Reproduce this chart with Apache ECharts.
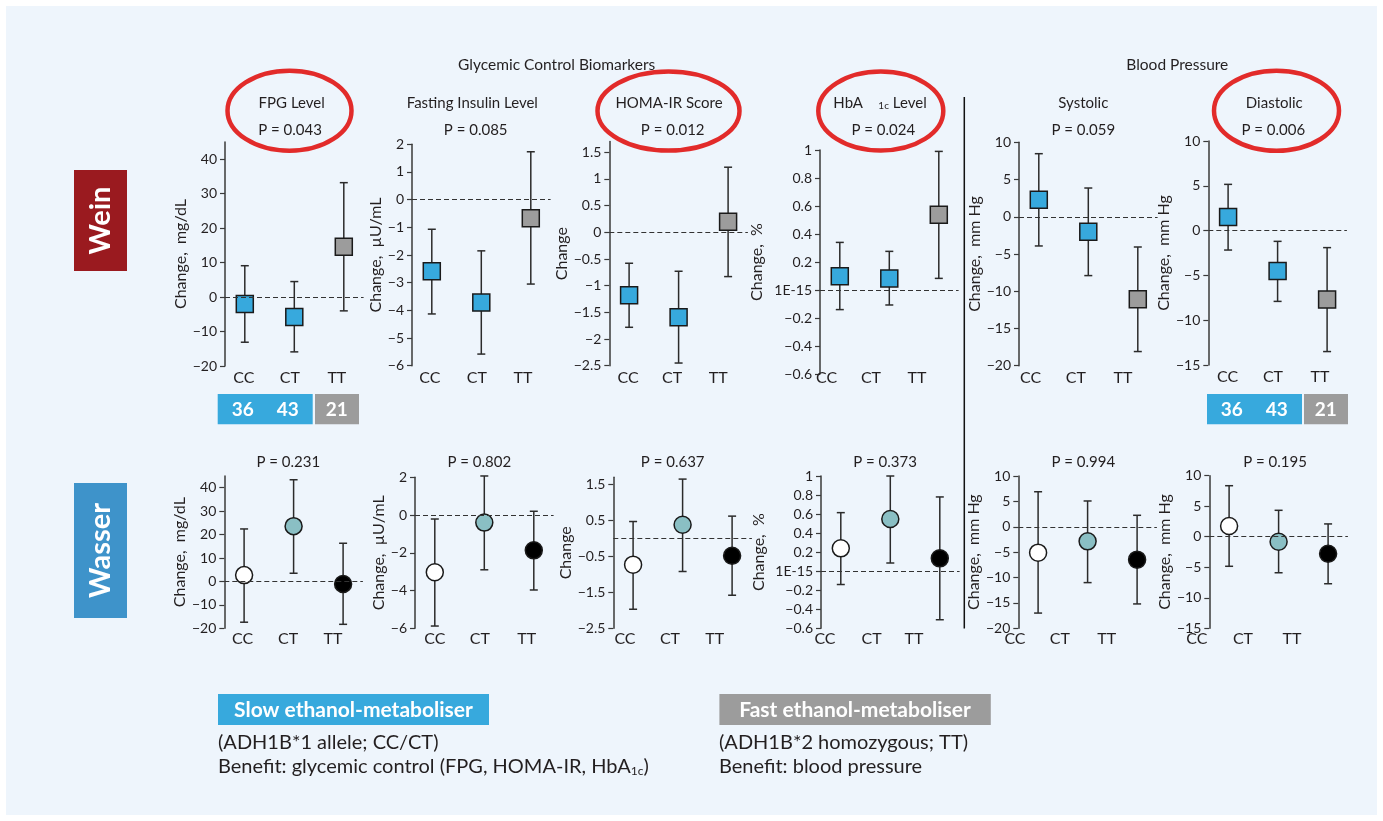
<!DOCTYPE html>
<html>
<head>
<meta charset="utf-8">
<script src="https://cdn.jsdelivr.net/npm/echarts/dist/echarts.min.js"></script>
<style>html,body{margin:0;padding:0;background:#fff}#c{width:1383px;height:821px}</style>
</head>
<body>
<div id="c"></div>
<script>
// ---------- DATA ----------
const groups = ['CC', 'CT', 'TT'];
const counts = [36, 43, 21];
const panelTitles = ['FPG Level', 'Fasting Insulin Level', 'HOMA-IR Score', 'HbA1c Level', 'Systolic', 'Diastolic'];
const yNames = ['Change,  mg/dL', 'Change,  \u00b5U/mL', 'Change', 'Change,  %', 'Change,  mm Hg', 'Change,  mm Hg'];
const pWein = ['0.043', '0.085', '0.012', '0.024', '0.059', '0.006'];
const pWasser = ['0.231', '0.802', '0.637', '0.373', '0.994', '0.195'];

// [mean, low, high] per genotype (CC, CT, TT)
const weinFPG      = [[-2.0, -13.1, 9.1], [-5.8, -15.9, 4.5], [14.6, -4.0, 33.2]];
const weinInsulin  = [[-2.59, -4.13, -1.07], [-3.72, -5.58, -1.85], [-0.67, -3.05, 1.73]];
const weinHOMA     = [[-1.18, -1.78, -0.58], [-1.59, -2.45, -0.73], [0.20, -0.83, 1.22]];
const weinHbA1c    = [[0.098, -0.14, 0.34], [0.083, -0.107, 0.276], [0.537, 0.083, 0.99]];
const weinSys      = [[2.28, -3.92, 8.47], [-2.02, -7.9, 3.86], [-11.07, -18.1, -4.06]];
const weinDia      = [[1.52, -2.17, 5.16], [-4.5, -7.9, -1.2], [-7.7, -13.5, -1.9]];

const wasserFPG     = [[2.7, -17.4, 22.4], [23.6, 3.5, 43.4], [-1.1, -18.3, 16.3]];
const wasserInsulin = [[-3.03, -5.88, -0.21], [-0.4, -2.9, 2.07], [-1.87, -3.97, 0.2]];
const wasserHOMA    = [[-0.73, -1.97, 0.47], [0.38, -0.92, 1.65], [-0.48, -1.58, 0.62]];
const wasserHbA1c   = [[0.24, -0.14, 0.615], [0.548, 0.086, 1.0], [0.135, -0.51, 0.78]];
const wasserSys     = [[-5.1, -17.0, 6.9], [-2.87, -11.0, 5.08], [-6.48, -15.2, 2.26]];
const wasserDia     = [[1.76, -4.84, 8.36], [-0.81, -5.9, 4.33], [-2.78, -7.7, 2.1]];

// tick labels
const ticksFPG        = [-20, -10, 0, 10, 20, 30, 40];
const ticksInsulinTop = [-6, -5, -4, -3, -2, -1, 0, 1, 2];
const ticksInsulinBot = [-6, -4, -2, 0, 2];
const ticksHOMATop    = [-2.5, -2, -1.5, -1, -0.5, 0, 0.5, 1, 1.5];
const ticksHOMABot    = [-2.5, -1.5, -0.5, 0.5, 1.5];
const ticksHbA1c      = [-0.6, -0.4, -0.2, 0, 0.2, 0.4, 0.6, 0.8, 1];
const ticksSys        = [-20, -15, -10, -5, 0, 5, 10];
const ticksDia        = [-15, -10, -5, 0, 5, 10];

const weinData = [weinFPG, weinInsulin, weinHOMA, weinHbA1c, weinSys, weinDia];
const wasserData = [wasserFPG, wasserInsulin, wasserHOMA, wasserHbA1c, wasserSys, wasserDia];
const weinTicks = [ticksFPG, ticksInsulinTop, ticksHOMATop, ticksHbA1c, ticksSys, ticksDia];
const wasserTicks = [ticksFPG, ticksInsulinBot, ticksHOMABot, ticksHbA1c, ticksSys, ticksDia];

// ---------- LAYOUT / STYLE ----------
const FONT = 'Lato, "Open Sans", sans-serif';
const TXT = '#231f20';
const GW = 138.6;
const layoutTop = [
  {left: 225,    top: 142,   h: 224,   min: -20,  max: 45,  gap: 31.5, lab: [0.98, 1.91, 2.86], lm: 4},
  {left: 412,    top: 144.3, h: 221.4, min: -6,   max: 2,   gap: 27,   lab: [0.96, 1.91, 2.84], lm: 4},
  {left: 609.3,  top: 141.6, h: 224.1, min: -2.5, max: 1.7, gap: 37,   lab: [0.98, 1.87, 2.80], lm: 4},
  {left: 820,    top: 150,   h: 224,   min: -0.6, max: 1,   gap: 55,   lab: [0.735, 1.63, 2.56], lm: -4},
  {left: 1019,   top: 142.3, h: 223.4, min: -20,  max: 10,  gap: 31.5, lab: [0.836, 1.75, 2.70], lm: 4},
  {left: 1208.3, top: 141,   h: 224,   min: -15,  max: 10,  gap: 29,   lab: [0.99, 1.907, 2.856], lm: 4}
];
const layoutBot = [
  {left: 224.3,  top: 476,   h: 152.3, min: -20,  max: 45,  gap: 30.5, lab: [0.97, 1.887, 2.796], lm: 3},
  {left: 415,    top: 477.3, h: 151,   min: -6,   max: 2,   gap: 28.5, lab: [1.0, 1.91, 2.857], lm: 3},
  {left: 613.3,  top: 477.3, h: 151,   min: -2.5, max: 1.7, gap: 37,   lab: [0.836, 1.745, 2.65], lm: 3},
  {left: 821,    top: 476,   h: 152.3, min: -0.6, max: 1,   gap: 54.5, lab: [0.68, 1.624, 2.48], lm: 3},
  {left: 1018.3, top: 476,   h: 152.3, min: -20,  max: 10,  gap: 33,   lab: [1.033, 1.94, 2.886], lm: 3, pad: 49.5},
  {left: 1209.3, top: 475.7, h: 152.6, min: -15,  max: 10,  gap: 34,   lab: [0.85, 1.78, 2.77], lm: 3, pad: 49.5}
];
const topColors = ['#37a9dd', '#37a9dd', '#9c9c9c'];
const botColors = ['#ffffff', '#8abfc4', '#000000'];

function fmtTick(v, zeroLabel) {
  if (Math.abs(v) < 1e-9) return zeroLabel;
  const s = String(+Math.abs(v).toFixed(2));
  return v < 0 ? '\u2212' + s : s;
}

function errRender(params, api) {
  const x = api.value(0), lo = api.value(1), hi = api.value(2);
  const a = api.coord([x, hi]), b = api.coord([x, lo]);
  const cw = 4;
  const st = {stroke: '#2b2b2b', lineWidth: 1.5};
  return {type: 'group', children: [
    {type: 'line', shape: {x1: a[0], y1: a[1], x2: b[0], y2: b[1]}, style: st},
    {type: 'line', shape: {x1: a[0] - cw, y1: a[1], x2: a[0] + cw, y2: a[1]}, style: st},
    {type: 'line', shape: {x1: b[0] - cw, y1: b[1], x2: b[0] + cw, y2: b[1]}, style: st}
  ]};
}

const grids = [], xAxes = [], yAxes = [], series = [];
function addPanel(lay, data, ticks, k, isTop) {
  const i = grids.length;
  grids.push({left: lay.left, top: lay.top, width: GW, height: lay.h, outerBoundsMode: 'none', containLabel: false});
  const labs = lay.lab;
  xAxes.push({
    gridIndex: i, type: 'value', min: 0.6, max: 3.4,
    axisLine: {show: false}, axisTick: {show: false}, splitLine: {show: false},
    axisLabel: {
      customValues: labs, margin: lay.lm, fontSize: 16, fontFamily: FONT, color: TXT,
      padding: lay.pad ? [0, lay.pad, 0, 0] : 0,
      formatter: function (v) {
        let best = 0, d = 1e9;
        labs.forEach((p, j) => { if (Math.abs(p - v) < d) { d = Math.abs(p - v); best = j; } });
        return groups[best];
      }
    }
  });
  const zeroLabel = k === 3 ? '1E-15' : '0';
  yAxes.push({
    gridIndex: i, type: 'value', min: lay.min, max: lay.max,
    name: yNames[k], nameLocation: 'middle', nameGap: lay.gap,
    nameTextStyle: {fontSize: 16, fontFamily: FONT, color: TXT},
    axisLine: {show: true, lineStyle: {color: '#3a3a3a', width: 1.5}},
    axisTick: {show: true, customValues: ticks, length: 5, lineStyle: {color: '#3a3a3a', width: 1.2}},
    splitLine: {show: false},
    axisLabel: {customValues: ticks, margin: 8, fontSize: 14, fontFamily: FONT, color: TXT,
      formatter: v => fmtTick(v, zeroLabel)}
  });
  series.push({
    type: 'custom', xAxisIndex: i, yAxisIndex: i, z: 2, silent: true,
    renderItem: errRender, encode: {x: 0, y: [1, 2]},
    data: data.map((d, j) => [j + 1, d[1], d[2]]),
    markLine: {silent: true, symbol: ['none', 'none'], label: {show: false},
      lineStyle: {type: [5, 3], color: '#333', width: 1.2}, data: [{yAxis: 0}]}
  });
  series.push({
    type: 'scatter', xAxisIndex: i, yAxisIndex: i, z: 3, silent: true,
    symbol: isTop ? 'rect' : 'circle', symbolSize: 17,
    data: data.map((d, j) => ({value: [j + 1, d[0]],
      itemStyle: {color: (isTop ? topColors : botColors)[j], borderColor: '#1a1a1a', borderWidth: 1.5, opacity: 1}}))
  });
}
for (let k = 0; k < 6; k++) addPanel(layoutTop[k], weinData[k], weinTicks[k], k, true);
for (let k = 0; k < 6; k++) addPanel(layoutBot[k], wasserData[k], wasserTicks[k], k, false);

// ---------- GRAPHICS (labels, boxes, ellipses) ----------
const g = [];
function text(x, y, s, size, opt) {
  opt = opt || {};
  g.push({type: 'text', x: x, y: y, rotation: opt.rot || 0, z: 10,
    style: {text: s, fontSize: size, fontFamily: FONT, fontWeight: opt.bold ? 'bold' : 'normal',
      fill: opt.fill || TXT, align: opt.align || 'center', verticalAlign: 'middle',
      textAlign: opt.align || 'center', textVerticalAlign: 'middle', rich: opt.rich}});
}
g.push({type: 'rect', shape: {x: 6, y: 6, width: 1371, height: 809}, style: {fill: '#eef5fc'}, z: -10});
// row labels
g.push({type: 'rect', shape: {x: 74, y: 170, width: 53, height: 101}, style: {fill: '#9a1a1f'}, z: 5});
text(101, 220.5, 'Wein', 29, {bold: true, fill: '#fff', rot: Math.PI / 2});
g.push({type: 'rect', shape: {x: 74, y: 483, width: 53, height: 135}, style: {fill: '#3e93ca'}, z: 5});
text(101, 550.5, 'Wasser', 29, {bold: true, fill: '#fff', rot: Math.PI / 2});
// section headers
text(556.7, 65, 'Glycemic Control Biomarkers', 15.5);
text(1177.3, 65, 'Blood Pressure', 15.5);
// panel titles
const titleX = [291.7, 472.3, 669, 880, 1083.3, 1274.3];
const pTopX = [290, 475.7, 672.7, 883.3, 1083.3, 1273.3];
const pBotX = [288.3, 479.3, 672.7, 885, 1083.3, 1275];
const rich = {s: {fontSize: 10, fontFamily: FONT, fill: TXT, padding: [7, 0, 0, 0]}, n: {fontSize: 15, fontFamily: FONT, fill: TXT}};
for (let k = 0; k < 6; k++) {
  if (k === 3) text(titleX[k], 102.7, '{n|HbA}    {s|1c} {n|Level}', 15, {rich: rich});
  else text(titleX[k], 102.7, panelTitles[k], 15);
  text(pTopX[k], 130, 'P = ' + pWein[k], 15);
  text(pBotX[k], 461.7, 'P = ' + pWasser[k], 15);
}
// red ellipses
[[289.5, 110.7, 62, 40], [668.5, 111, 71, 39.5], [880.8, 111, 62.5, 39.5], [1276.5, 110.7, 62.5, 40]].forEach(e => {
  g.push({type: 'ellipse', shape: {cx: e[0], cy: e[1], rx: e[2], ry: e[3]}, style: {fill: 'none', stroke: '#e22b2a', lineWidth: 4.5}, z: 8});
});
// separator line
g.push({type: 'line', shape: {x1: 964.3, y1: 97, x2: 964.3, y2: 628.5}, style: {stroke: '#111', lineWidth: 1.5}, z: 5});
// count boxes
[[217.7, 315, [242.7, 287.7, 336.7]], [1207, 1304, [1231.7, 1276.7, 1325.7]]].forEach(b => {
  g.push({type: 'rect', shape: {x: b[0], y: 394, width: 95, height: 30.3}, style: {fill: '#37a9dd'}, z: 5});
  g.push({type: 'rect', shape: {x: b[1], y: 394, width: 44, height: 30.3}, style: {fill: '#9c9c9c'}, z: 5});
  b[2].forEach((x, j) => text(x, 409.5, String(counts[j]), 19, {bold: true, fill: '#fff'}));
});
// bottom legend
g.push({type: 'rect', shape: {x: 218, y: 694, width: 271, height: 31}, style: {fill: '#37a9dd'}, z: 5});
text(353.5, 710, 'Slow ethanol-metaboliser', 21, {bold: true, fill: '#fff'});
g.push({type: 'rect', shape: {x: 719.4, y: 694, width: 271.4, height: 31}, style: {fill: '#9c9c9c'}, z: 5});
text(855, 710, 'Fast ethanol-metaboliser', 21, {bold: true, fill: '#fff'});
const lrich = {s: {fontSize: 12, fontFamily: FONT, fill: TXT, padding: [9, 0, 0, 0]}};
text(218, 743, '(ADH1B*1 allele; CC/CT)', 20, {align: 'left'});
text(218, 767, 'Benefit: glycemic control (FPG, HOMA-IR, HbA{s|1c})', 20, {align: 'left', rich: lrich});
text(719, 743, '(ADH1B*2 homozygous; TT)', 20, {align: 'left'});
text(719, 767, 'Benefit: blood pressure', 20, {align: 'left'});

const chart = echarts.init(document.getElementById('c'), null, {renderer: 'canvas'});
chart.setOption({
  backgroundColor: '#ffffff',
  animation: false,
  grid: grids, xAxis: xAxes, yAxis: yAxes, series: series,
  graphic: {elements: g}
});
</script>
</body>
</html>
